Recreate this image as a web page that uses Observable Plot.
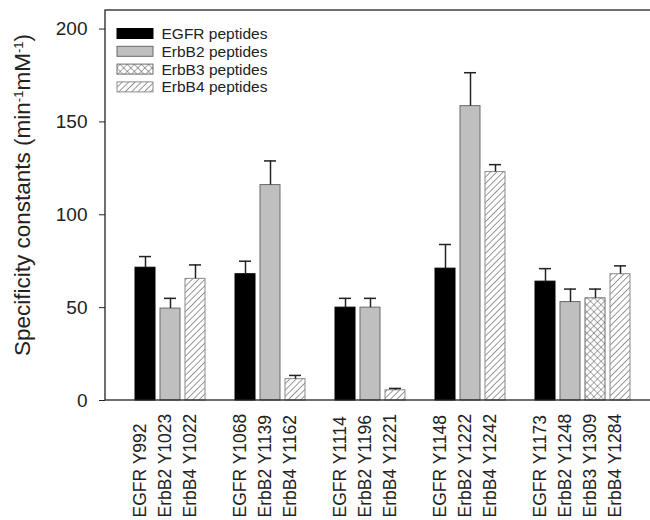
<!DOCTYPE html>
<html><head><meta charset="utf-8">
<script src="https://cdn.jsdelivr.net/npm/d3@7"></script>
<script src="https://cdn.jsdelivr.net/npm/@observablehq/plot@0.6"></script>
<style>body{margin:0;background:#fff;} svg{font-family:"Liberation Sans",Arial,sans-serif;}</style>
</head><body><div id="chart"></div>
<script>
// ---- data ----
const labels = ["EGFR Y992","ErbB2 Y1023","ErbB4 Y1022",
  "EGFR Y1068","ErbB2 Y1139","ErbB4 Y1162",
  "EGFR Y1114","ErbB2 Y1196","ErbB4 Y1221",
  "EGFR Y1148","ErbB2 Y1222","ErbB4 Y1242",
  "EGFR Y1173","ErbB2 Y1248","ErbB3 Y1309","ErbB4 Y1284"];
const families = ["EGFR","ErbB2","ErbB4","EGFR","ErbB2","ErbB4","EGFR","ErbB2","ErbB4",
  "EGFR","ErbB2","ErbB4","EGFR","ErbB2","ErbB3","ErbB4"];
const groups = [1,1,1,2,2,2,3,3,3,4,4,4,5,5,5,5];
const values = [71.5,49.5,65.5, 68,116,11.5, 50,50,5.5, 71,158.5,123, 64,53,55,68];
const errors = [6,5.5,7.5, 7,13,2, 5,5,1, 13,18,4, 7,7,5,4.5];
const yTicks = [0,50,100,150,200];
const legendNames = ["EGFR peptides","ErbB2 peptides","ErbB3 peptides","ErbB4 peptides"];
const legendFamilies = ["EGFR","ErbB2","ErbB3","ErbB4"];

const data = labels.map((label,i)=>({label, family:families[i], group:groups[i], value:values[i], err:errors[i]}));
// x slots with one empty slot between groups
const slots = [];
data.forEach((d,i)=>{ if(i>0 && d.group!==data[i-1].group) slots.push("gap"+d.group); slots.push(d.label); });

const fills = {EGFR:"#000000", ErbB2:"#bfbfbf", ErbB3:"url(#cross)", ErbB4:"url(#hatch)"};
const strokes = {EGFR:"#000000", ErbB2:"#6a6a6a", ErbB3:"#6a6a6a", ErbB4:"#8a8a8a"};

const plot = Plot.plot({
  width: 650, height: 520,
  marginLeft: 105, marginRight: -10, marginTop: 10, marginBottom: 120,
  style: {fontFamily: '"Liberation Sans", Arial, sans-serif', background: "#fff"},
  x: {domain: slots, paddingInner: 0.185, paddingOuter: 1.125, axis: null},
  y: {domain: [0, 210]},
  marks: [
    ...legendFamilies.map(f => Plot.barY(data.filter(d=>d.family===f), {x:"label", y:"value", fill: fills[f], stroke: strokes[f], strokeWidth: 1})),
    Plot.ruleX(data, {x:"label", y1:"value", y2: d=>d.value+d.err, stroke:"#222", strokeWidth:1.5}),
    Plot.tickY(data, {x:"label", y: d=>d.value+d.err, stroke:"#222", strokeWidth:1.5, inset:4}),
    Plot.rect([0], {y1: 0, y2: 210, fill: "none", stroke: "#222", strokeWidth: 1.3}),
    Plot.axisY({ticks: yTicks, tickSize: 6, tickPadding: 12, fontSize: 19, label: null, color:"#222"}),
    Plot.text(data, {x:"label", text:"label", frameAnchor:"bottom", rotate:-90, textAnchor:"start", dy:117, fontSize:17.5, fill:"#222"})
  ]
});

const svg = d3.select(plot);
const defs = svg.insert("defs", ":first-child");
const hatch = defs.append("pattern").attr("id","hatch").attr("patternUnits","userSpaceOnUse")
  .attr("width",4.5).attr("height",4.5).attr("patternTransform","rotate(45)");
hatch.append("rect").attr("width",4.5).attr("height",4.5).attr("fill","#fff");
hatch.append("line").attr("x1",0).attr("y1",0).attr("x2",0).attr("y2",4.5).attr("stroke","#555").attr("stroke-width",1.2);
const cross = defs.append("pattern").attr("id","cross").attr("patternUnits","userSpaceOnUse")
  .attr("width",5).attr("height",5).attr("patternTransform","rotate(45)");
cross.append("rect").attr("width",5).attr("height",5).attr("fill","#fff");
cross.append("line").attr("x1",0).attr("y1",0).attr("x2",0).attr("y2",5).attr("stroke","#555").attr("stroke-width",1);
cross.append("line").attr("x1",0).attr("y1",0).attr("x2",5).attr("y2",0).attr("stroke","#555").attr("stroke-width",1);

// y axis title
const title = svg.append("text").attr("transform","translate(30,195) rotate(-90)")
  .attr("text-anchor","middle").attr("font-size",22.5).attr("fill","#222");
title.append("tspan").text("Specificity constants (min");
title.append("tspan").attr("baseline-shift","super").attr("font-size",13).text("-1");
title.append("tspan").text("mM");
title.append("tspan").attr("baseline-shift","super").attr("font-size",13).text("-1");
title.append("tspan").text(")");

// legend
const lg = svg.append("g").attr("text-anchor","start");
legendNames.forEach((name,i)=>{
  const f = legendFamilies[i];
  const y = 28.5 + i*17.8;
  lg.append("rect").attr("x",117).attr("y",y).attr("width",36).attr("height",10)
    .attr("fill",fills[f]).attr("stroke",strokes[f]);
  lg.append("text").attr("x",161.5).attr("y",y+5).attr("dy","0.35em").attr("font-size",15.5).attr("fill","#222").text(name);
});

document.getElementById("chart").appendChild(plot);
</script>
</body></html>
